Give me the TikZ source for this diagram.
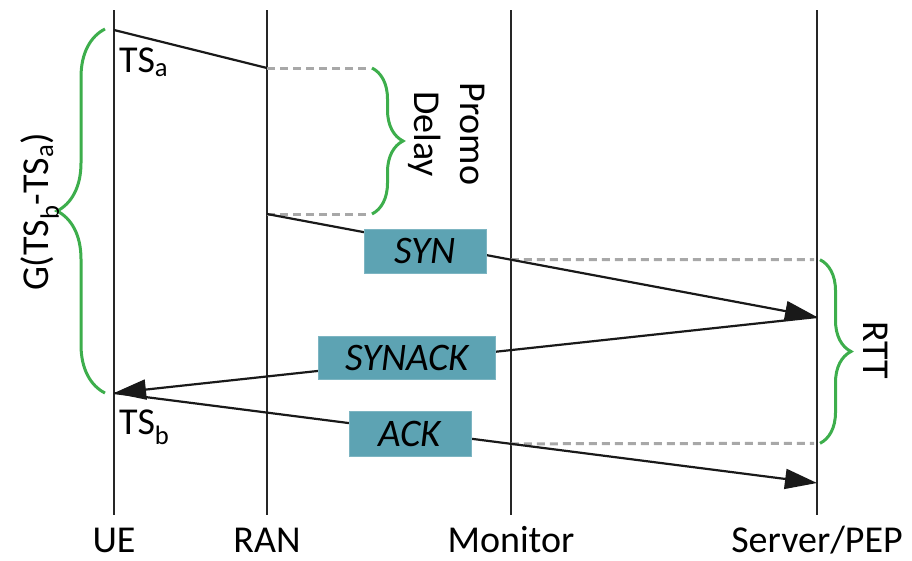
\documentclass[tikz,border=0pt]{standalone}
\usepackage{fontspec}
\setmainfont{Carlito}
\usetikzlibrary{arrows.meta,decorations.pathreplacing,calc}
\definecolor{boxteal}{HTML}{5DA3B3}
\definecolor{bracegreen}{HTML}{3DAE4C}
\definecolor{dashgray}{HTML}{A8A8A8}
\begin{document}
\begin{tikzpicture}[x=1pt,y=-1pt,
  life/.style={line width=2pt, black!85},
  msg/.style={line width=2.2pt, black!90},
  arr/.style={msg,-{Triangle[length=32pt,width=20pt]}},
  gdash/.style={dashgray,line width=3pt,dash pattern=on 8pt off 5pt},
  gbrace/.style={bracegreen,line width=3pt,decorate,decoration={brace,amplitude=#1}},
  pkt/.style={fill=boxteal,draw=boxteal!80!white,line width=0.8pt,inner sep=0pt,
    font=\fontsize{39}{42}\selectfont\itshape},
  lbl/.style={font=\fontsize{38}{46}\selectfont,inner sep=0pt}]
\useasboundingbox (0,0) rectangle (912,560);
% lifelines
\coordinate (ueT) at (114,10);  \coordinate (ueB) at (114,515);
\coordinate (ranT) at (267,10); \coordinate (ranB) at (267,515);
\coordinate (monT) at (511,10); \coordinate (monB) at (511,515);
\coordinate (srvT) at (817,10); \coordinate (srvB) at (817,515);
\draw[life] (ueT) -- (ueB);
\draw[life] (ranT) -- (ranB);
\draw[life] (monT) -- (monB);
\draw[life] (srvT) -- (srvB);
\node[lbl,anchor=base] (ueL) at (114,552) {UE};
\node[lbl,anchor=base] (ranL) at (267,552) {RAN};
\node[lbl,anchor=base] (monL) at (511,552) {Monitor};
\node[lbl,anchor=base] (srvL) at (817,552) {Server/PEP};
% message end points
\coordinate (a1) at (114,30);
\coordinate (a2) at (267,68);
\coordinate (s1) at (267,214);
\coordinate (s2) at (817,317);
\coordinate (k1) at (114,393);
\coordinate (k2) at (817,483);
\coordinate (m1) at ($(s1)!0.4436!(s2)$);
\coordinate (m2) at ($(k1)!0.5647!(k2)$);
% dashed helpers
\coordinate (pd1) at (368,68);
\coordinate (pd2) at (368,214);
\coordinate (rt1) at (814,259.7);
\coordinate (rt2) at (814,443.3);
\draw[gdash] (a2) -- (pd1);
\draw[gdash] (s1) -- (pd2);
\draw[gdash] (m1) -- (rt1);
\draw[gdash] (m2) -- (rt2);
% messages
\draw[msg] (a1) -- (a2);
\draw[arr] (s1) -- (s2);
\draw[arr] (s2) -- (k1);
\draw[arr] (k1) -- (k2);
% packet boxes
\node[pkt,minimum width=122pt,minimum height=44pt] (syn) at (425,251) {SYN};
\node[pkt,minimum width=177pt,minimum height=43pt] (synack) at (407,358) {SYNACK};
\node[pkt,minimum width=122pt,minimum height=45pt] (ack) at (410,434) {ACK};
% timestamps
\node[lbl,anchor=west] (tsa) at (119,62) {TS\textsubscript{a}};
\node[lbl,anchor=west] (tsb) at (119,427) {TS\textsubscript{b}};
% braces
\coordinate (gb1) at (105,393); \coordinate (gb2) at (105,29);
\draw[gbrace=48pt] (gb1) -- (gb2);
\node[lbl,rotate=90] (glbl) at (40,212) {G(TS\textsubscript{b}-TS\textsubscript{a})};
\coordinate (pb1) at (372,68); \coordinate (pb2) at (372,214);
\draw[gbrace=31pt] (pb1) -- (pb2);
\node[lbl,rotate=-90,align=center] (pdl) at (447,134) {Promo\\Delay};
\coordinate (rb1) at (820,259.7); \coordinate (rb2) at (820,443.3);
\draw[gbrace=31pt] (rb1) -- (rb2);
\node[lbl,rotate=-90] (rttl) at (876,350) {RTT};
\end{tikzpicture}
\end{document}
